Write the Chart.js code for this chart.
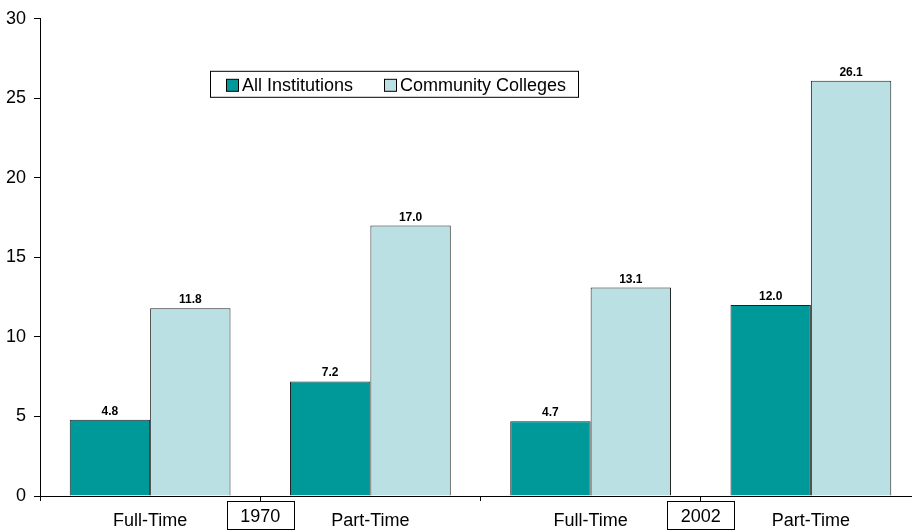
<!DOCTYPE html>
<html>
<head>
<meta charset="utf-8">
<script src="https://cdn.jsdelivr.net/npm/chart.js@4/dist/chart.umd.min.js"></script>
<style>
  html, body { margin: 0; padding: 0; overflow: hidden; background: #fff; }
  #wrap { width: 922px; height: 531px; }
</style>
</head>
<body>
<div id="wrap"><canvas id="c" width="922" height="531"></canvas></div>
<script>
const categories = ['Full-Time', 'Part-Time', 'Full-Time', 'Part-Time'];
const years = ['1970', '2002'];
const allInstitutions = [4.8, 7.2, 4.7, 12.0];
const communityColleges = [11.8, 17.0, 13.1, 26.1];
const yTicks = [0, 5, 10, 15, 20, 25, 30];

const FONT = "'Liberation Sans', Arial, Helvetica, sans-serif";
const TEAL = '#009999';
const LIGHT = '#BBE0E3';

const valueLabels = {
  id: 'valueLabels',
  afterDatasetsDraw(chart) {
    const ctx = chart.ctx;
    ctx.save();
    ctx.font = 'bold 12px ' + FONT;
    ctx.fillStyle = '#000';
    ctx.textAlign = 'center';
    ctx.textBaseline = 'alphabetic';
    chart.data.datasets.forEach((ds, di) => {
      const meta = chart.getDatasetMeta(di);
      meta.data.forEach((el, i) => {
        ctx.fillText(ds.data[i].toFixed(1), el.x, el.y - 5);
      });
    });
    ctx.restore();
  }
};

const yearBoxes = {
  id: 'yearBoxes',
  afterDraw(chart) {
    const ctx = chart.ctx;
    const xs = chart.scales.x;
    const bottom = chart.chartArea.bottom;
    ctx.save();
    years.forEach((yr, k) => {
      const a = xs.getPixelForValue(k * 2);
      const b = xs.getPixelForValue(k * 2 + 1);
      const cx = (a + b) / 2;
      const w = 67, h = 28;
      const top = bottom + 5;
      ctx.fillStyle = '#fff';
      ctx.fillRect(Math.round(cx - w / 2) + 0.5, top + 0.5, w, h);
      ctx.strokeStyle = '#000';
      ctx.lineWidth = 1;
      ctx.strokeRect(Math.round(cx - w / 2) + 0.5, top + 0.5, w, h);
      ctx.fillStyle = '#000';
      ctx.font = '18px ' + FONT;
      ctx.textAlign = 'center';
      ctx.textBaseline = 'alphabetic';
      ctx.fillText(yr, cx, top + 21);
    });
    ctx.restore();
  }
};

const boxLegend = {
  id: 'boxLegend',
  afterDraw(chart) {
    const ctx = chart.ctx;
    const ca = chart.chartArea;
    const x0 = ca.left + 170, y0 = ca.top + 52, w = 368, h = 26;
    ctx.save();
    ctx.fillStyle = '#fff';
    ctx.fillRect(x0 + 0.5, y0 + 0.5, w, h);
    ctx.strokeStyle = '#000';
    ctx.lineWidth = 1;
    ctx.strokeRect(x0 + 0.5, y0 + 0.5, w, h);
    ctx.font = '18px ' + FONT;
    ctx.textBaseline = 'alphabetic';
    ctx.textAlign = 'left';
    const items = chart.data.datasets;
    const offs = [16, 174];
    items.forEach((ds, i) => {
      const sx = x0 + offs[i];
      ctx.fillStyle = ds.backgroundColor;
      ctx.fillRect(sx + 0.5, y0 + 8.5, 12, 12);
      ctx.strokeStyle = '#000';
      ctx.strokeRect(sx + 0.5, y0 + 8.5, 12, 12);
      ctx.fillStyle = '#000';
      ctx.fillText(ds.label, sx + 16, y0 + 20);
    });
    ctx.restore();
  }
};

new Chart(document.getElementById('c'), {
  type: 'bar',
  data: {
    labels: categories,
    datasets: [
      { label: 'All Institutions', data: allInstitutions, backgroundColor: TEAL, borderColor: '#222', borderWidth: 1 },
      { label: 'Community Colleges', data: communityColleges, backgroundColor: LIGHT, borderColor: '#222', borderWidth: 1 }
    ]
  },
  options: {
    responsive: false,
    animation: false,
    devicePixelRatio: 1,
    layout: { padding: { top: 15, right: 1, left: 0, bottom: 0 } },
    plugins: { legend: { display: false }, tooltip: { enabled: false } },
    datasets: { bar: { categoryPercentage: 0.73, barPercentage: 1.0 } },
    scales: {
      x: {
        offset: true,
        grid: { offset: true, drawOnChartArea: false, drawTicks: true, tickLength: 5, color: '#000' },
        border: { color: '#000', width: 1 },
        ticks: { color: '#000', font: { family: FONT, size: 18 }, padding: 9, maxRotation: 0 },
        afterFit(s) { s.height = 35; }
      },
      y: {
        min: 0, max: 30,
        afterBuildTicks(s) { s.ticks = yTicks.map(v => ({ value: v })); },
        grid: { drawOnChartArea: false, drawTicks: true, tickLength: 6, color: '#000' },
        border: { color: '#000', width: 1 },
        ticks: { color: '#000', font: { family: FONT, size: 18 }, padding: 8 },
        afterFit(s) { s.width = 40; }
      }
    }
  },
  plugins: [valueLabels, yearBoxes, boxLegend]
});
</script>
</body>
</html>
